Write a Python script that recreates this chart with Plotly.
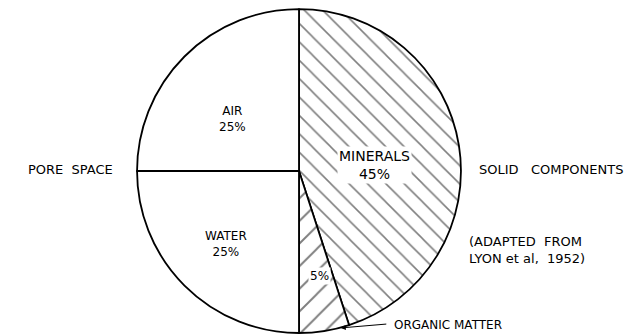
import plotly.graph_objects as go

# Soil volume composition
components = ["MINERALS", "ORGANIC MATTER", "WATER", "AIR"]
percent = [45, 5, 25, 25]
hatch = ["\\", "/", "", ""]
hatch_size = [13, 16, 10, 10]

font_family = "DejaVu Sans, Liberation Sans, sans-serif"

fig = go.Figure(
    go.Pie(
        labels=components,
        values=percent,
        sort=False,
        direction="clockwise",
        rotation=0,
        textinfo="none",
        hoverinfo="label+percent",
        showlegend=False,
        marker=dict(
            colors=["white"] * len(components),
            line=dict(color="black", width=1.8),
            pattern=dict(
                shape=hatch,
                size=hatch_size,
                solidity=0.12,
                fgcolor="black",
                bgcolor="white",
                fillmode="overlay",
            ),
        ),
        domain=dict(x=[0.213, 0.717], y=[0.009, 0.973]),
    )
)

txt = dict(family=font_family, size=12, color="black")
cap = dict(family=font_family, size=13, color="black")
big = dict(family=font_family, size=14, color="black")
anns = [
    # slice labels
    dict(x=0.362, y=0.645, text=f"{components[3]}<br>{percent[3]}%", font=txt),
    dict(x=0.582, y=0.51, text=f"{components[0]}<br>{percent[0]}%", bgcolor="white", font=big),
    dict(x=0.352, y=0.275, text=f"{components[2]}<br>{percent[2]}%", font=txt),
    dict(x=0.497, y=0.18, text=f"{percent[1]}%", bgcolor="white", font=txt),
    # outer captions
    dict(x=0.110, y=0.497, text="PORE  SPACE", font=cap),
    dict(x=0.857, y=0.497, text="SOLID   COMPONENTS", font=cap),
    dict(x=0.727, y=0.255, text="(ADAPTED  FROM<br>LYON et al,  1952)", xanchor="left", align="left", font=cap),
    dict(x=0.61, y=0.033, text=components[1], xanchor="left", font=txt),
]
for a in anns:
    a.setdefault("xanchor", "center")
    fig.add_annotation(
        xref="paper", yref="paper", yanchor="middle",
        showarrow=False, borderpad=1, **a,
    )

# leader line to the organic matter wedge
fig.add_annotation(
    xref="paper", yref="paper",
    x=0.530, y=0.024, ax=47, ay=-4,
    text="", showarrow=True, arrowhead=2, arrowsize=1, arrowwidth=1,
    arrowcolor="black",
)

fig.update_layout(
    width=643, height=336,
    margin=dict(l=0, r=0, t=0, b=0),
    paper_bgcolor="white",
    plot_bgcolor="white",
)

fig.write_html("out.html")
